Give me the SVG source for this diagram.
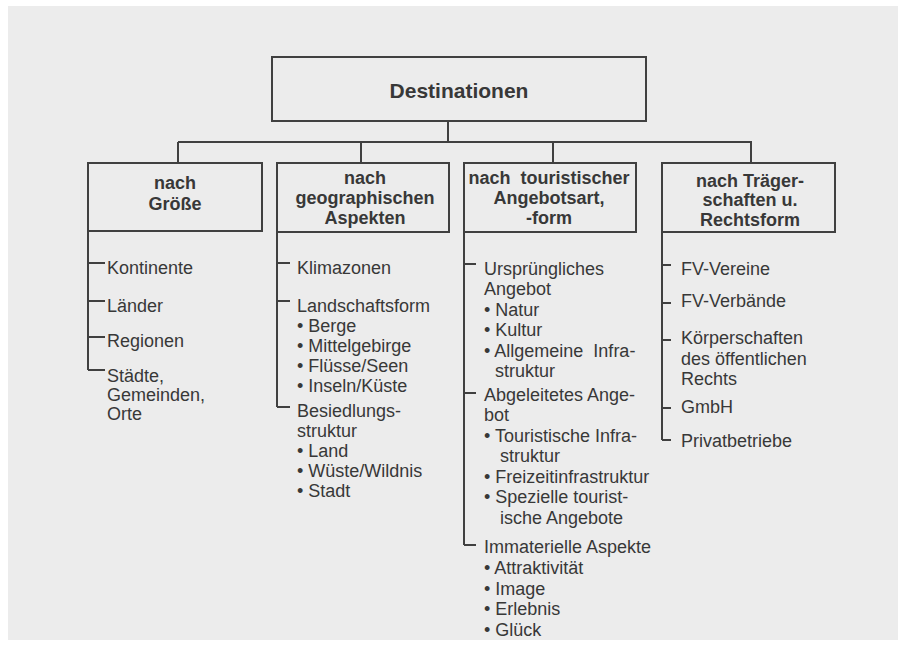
<svg xmlns="http://www.w3.org/2000/svg" width="907" height="649" viewBox="0 0 907 649">
<style>
.t{font-family:"Liberation Sans",Arial,sans-serif;font-size:18px;fill:#383838}
.h{font-family:"Liberation Sans",Arial,sans-serif;font-size:18px;font-weight:bold;fill:#383838;text-anchor:middle}
.box{fill:none;stroke:#404040;stroke-width:2}
.ln{fill:none;stroke:#404040;stroke-width:2}
</style>
<rect x="0" y="0" width="907" height="649" fill="#ffffff"/>
<rect x="8" y="6" width="890" height="634" fill="#ececec"/>

<g id="connectors" class="ln">
<path d="M448 121V142M178 142H752M178 142V163M361 142V163M553 142V163M751 142V163"/>
<path d="M88 231V370M88 263H105M88 301H105M88 337H105M88 370H105"/>
<path d="M277 232V407M277 263H290M277 301H290M277 407H290"/>
<path d="M464 232V545M464 264H476M464 393H476M464 545H476"/>
<path d="M662 232V440M662 265H671M662 303H671M662 340H671M662 408H671M662 440H671"/>
</g>

<g id="root">
<rect class="box" x="272" y="57" width="374" height="64"/>
<text class="h" x="459" y="98" style="font-size:21px">Destinationen</text>
</g>

<g id="groesse">
<rect class="box" x="88" y="163" width="174" height="68"/>
<text class="h" x="175" y="189">nach</text>
<text class="h" x="175" y="210">Größe</text>
</g>

<g id="geo">
<rect class="box" x="277" y="163" width="172" height="69"/>
<text class="h" x="365" y="184">nach</text>
<text class="h" x="365" y="204">geographischen</text>
<text class="h" x="365" y="224">Aspekten</text>
</g>

<g id="angebot">
<rect class="box" x="464" y="163" width="172" height="69"/>
<text class="h" x="549" y="184" xml:space="preserve">nach  touristischer</text>
<text class="h" x="549" y="204">Angebotsart,</text>
<text class="h" x="549" y="224">-form</text>
</g>

<g id="traeger">
<rect class="box" x="662" y="163" width="173" height="69"/>
<text class="h" x="750" y="187">nach Träger-</text>
<text class="h" x="750" y="206">schaften u.</text>
<text class="h" x="750" y="226">Rechtsform</text>
</g>

<g id="groesse-items">
<text class="t" x="107" y="274">Kontinente</text>
<text class="t" x="107" y="312">Länder</text>
<text class="t" x="107" y="347">Regionen</text>
<text class="t" x="107" y="382">Städte,</text>
<text class="t" x="107" y="401">Gemeinden,</text>
<text class="t" x="107" y="420">Orte</text>
</g>

<g id="geo-items">
<text class="t" x="297" y="274">Klimazonen</text>
<text class="t" x="297" y="312">Landschaftsform</text>
<text class="t" x="297" y="332">• Berge</text>
<text class="t" x="297" y="352">• Mittelgebirge</text>
<text class="t" x="297" y="372">• Flüsse/Seen</text>
<text class="t" x="297" y="392">• Inseln/Küste</text>
<text class="t" x="297" y="417">Besiedlungs-</text>
<text class="t" x="297" y="437">struktur</text>
<text class="t" x="297" y="457">• Land</text>
<text class="t" x="297" y="477">• Wüste/Wildnis</text>
<text class="t" x="297" y="497">• Stadt</text>
</g>

<g id="angebot-items">
<text class="t" x="484" y="275">Ursprüngliches</text>
<text class="t" x="484" y="295">Angebot</text>
<text class="t" x="484" y="316">• Natur</text>
<text class="t" x="484" y="336">• Kultur</text>
<text class="t" x="484" y="357" xml:space="preserve">• Allgemeine  Infra-</text>
<text class="t" x="495" y="377">struktur</text>
<text class="t" x="484" y="401">Abgeleitetes Ange-</text>
<text class="t" x="484" y="421">bot</text>
<text class="t" x="484" y="442">• Touristische Infra-</text>
<text class="t" x="500" y="462">struktur</text>
<text class="t" x="484" y="483">• Freizeitinfrastruktur</text>
<text class="t" x="484" y="503">• Spezielle tourist-</text>
<text class="t" x="500" y="524">ische Angebote</text>
<text class="t" x="484" y="553">Immaterielle Aspekte</text>
<text class="t" x="484" y="574">• Attraktivität</text>
<text class="t" x="484" y="595">• Image</text>
<text class="t" x="484" y="615">• Erlebnis</text>
<text class="t" x="484" y="636">• Glück</text>
</g>

<g id="traeger-items">
<text class="t" x="681" y="275">FV-Vereine</text>
<text class="t" x="681" y="307">FV-Verbände</text>
<text class="t" x="681" y="344">Körperschaften</text>
<text class="t" x="681" y="365">des öffentlichen</text>
<text class="t" x="681" y="385">Rechts</text>
<text class="t" x="681" y="413">GmbH</text>
<text class="t" x="681" y="447">Privatbetriebe</text>
</g>
</svg>
